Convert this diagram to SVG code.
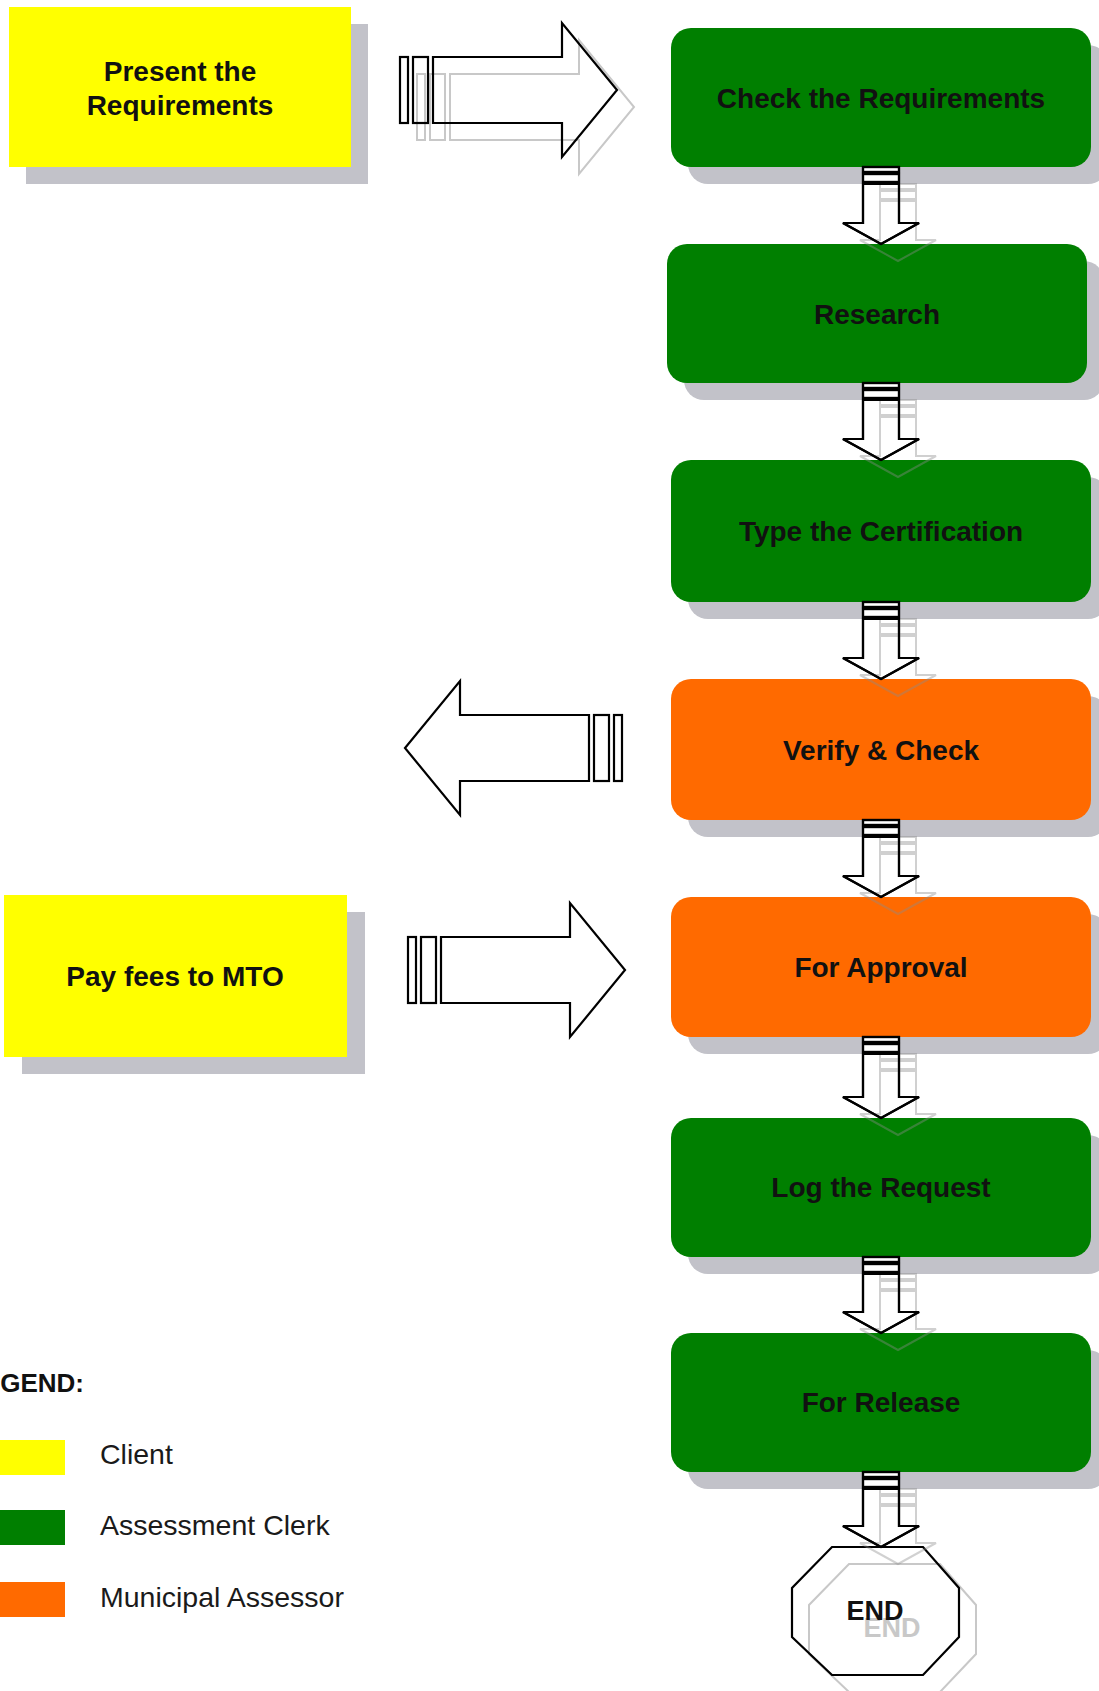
<svg xmlns="http://www.w3.org/2000/svg" xmlns:xlink="http://www.w3.org/1999/xlink" width="1099" height="1691" viewBox="0 0 1099 1691">
<style>
.shadow{fill:#c2c2c9}
.green{fill:#007f00}
.orange{fill:#ff6a00}
.yellow{fill:#ffff00}
.lbl{font-family:"Liberation Sans",Arial,sans-serif;font-weight:bold;font-size:28px;fill:#111;text-anchor:middle}
.leg{font-family:"Liberation Sans",Arial,sans-serif;font-size:28.5px;fill:#1a1a1a}
.arr{fill:#fff;stroke:#000;stroke-width:2.2}
.arrline{fill:none;stroke:#000;stroke-width:2.2}
.ghost{fill:none;stroke:#8c8c8c;stroke-width:2;opacity:0.4}
.ghostw{fill:none;stroke:#c8c8c8;stroke-width:2}
</style>
<defs>
<g id="harrow">
<rect x="0" y="-33" width="8" height="66"/>
<rect x="13" y="-33" width="15" height="66"/>
<polygon points="33,-33 162,-33 162,-67 217,0 162,67 162,33 33,33"/>
</g>
</defs>
<rect width="1099" height="1691" fill="#fff"/>

<g id="node-present">
<rect class="shadow" x="26" y="24" width="342" height="160"/>
<rect class="yellow" x="9" y="7" width="342" height="160"/>
<text class="lbl" x="180" y="81">Present the</text>
<text class="lbl" x="180" y="115">Requirements</text>
</g>

<g id="node-pay">
<rect class="shadow" x="22" y="912" width="343" height="162"/>
<rect class="yellow" x="4" y="895" width="343" height="162"/>
<text class="lbl" x="175" y="986">Pay fees to MTO</text>
</g>

<g id="node-check">
<rect class="shadow" x="688" y="45" width="420" height="139" rx="20"/>
<rect class="green" x="671" y="28" width="420" height="139" rx="20"/>
<text class="lbl" x="881" y="108">Check the Requirements</text>
</g>

<g id="node-research">
<rect class="shadow" x="684" y="261" width="420" height="139" rx="20"/>
<rect class="green" x="667" y="244" width="420" height="139" rx="20"/>
<text class="lbl" x="877" y="324">Research</text>
</g>

<g id="node-type">
<rect class="shadow" x="688" y="477" width="420" height="142" rx="20"/>
<rect class="green" x="671" y="460" width="420" height="142" rx="20"/>
<text class="lbl" x="881" y="541">Type the Certification</text>
</g>

<g id="node-verify">
<rect class="shadow" x="688" y="696" width="420" height="141" rx="20"/>
<rect class="orange" x="671" y="679" width="420" height="141" rx="20"/>
<text class="lbl" x="881" y="760">Verify &amp; Check</text>
</g>

<g id="node-approval">
<rect class="shadow" x="688" y="914" width="420" height="140" rx="20"/>
<rect class="orange" x="671" y="897" width="420" height="140" rx="20"/>
<text class="lbl" x="881" y="977">For Approval</text>
</g>

<g id="node-log">
<rect class="shadow" x="688" y="1135" width="420" height="139" rx="20"/>
<rect class="green" x="671" y="1118" width="420" height="139" rx="20"/>
<text class="lbl" x="881" y="1197">Log the Request</text>
</g>

<g id="node-release">
<rect class="shadow" x="688" y="1350" width="420" height="139" rx="20"/>
<rect class="green" x="671" y="1333" width="420" height="139" rx="20"/>
<text class="lbl" x="881" y="1412">For Release</text>
</g>

<g id="node-end">
<polygon class="ghostw" points="849,1564 940,1564 976,1605 976,1654 940,1692 849,1692 809,1654 809,1605"/>
<text x="892" y="1637" font-family="Liberation Sans, Arial, sans-serif" font-weight="bold" font-size="27" fill="#c8c8c8" text-anchor="middle">END</text>
<polygon fill="none" stroke="#000" stroke-width="2.2" points="832,1547 923,1547 959,1588 959,1637 923,1675 832,1675 792,1637 792,1588"/>
<text x="875" y="1620" font-family="Liberation Sans, Arial, sans-serif" font-weight="bold" font-size="27" fill="#111" text-anchor="middle">END</text>
</g>

<g id="connectors">
<use xlink:href="#harrow" href="#harrow" class="ghostw" transform="translate(417,107)"/>
<use xlink:href="#harrow" href="#harrow" class="arrline" transform="translate(400,90)"/>
<use xlink:href="#harrow" href="#harrow" class="arr" transform="translate(622,748) scale(-1,1)"/>
<use xlink:href="#harrow" href="#harrow" class="arr" transform="translate(408,970)"/>

<g class="arr">
<g id="d1"><rect x="863" y="167" width="36" height="5"/><rect x="863" y="174" width="36" height="8"/><polygon points="863,184 899,184 899,223 919,223 881,244 843,223 863,223"/></g>
<g id="d2"><rect x="863" y="383" width="36" height="5"/><rect x="863" y="390" width="36" height="8"/><polygon points="863,400 899,400 899,439 919,439 881,460 843,439 863,439"/></g>
<g id="d3"><rect x="863" y="602" width="36" height="5"/><rect x="863" y="609" width="36" height="8"/><polygon points="863,619 899,619 899,658 919,658 881,679 843,658 863,658"/></g>
<g id="d4"><rect x="863" y="820" width="36" height="5"/><rect x="863" y="827" width="36" height="8"/><polygon points="863,837 899,837 899,876 919,876 881,897 843,876 863,876"/></g>
<g id="d5"><rect x="863" y="1037" width="36" height="5"/><rect x="863" y="1044" width="36" height="8"/><polygon points="863,1054 899,1054 899,1097 919,1097 881,1118 843,1097 863,1097"/></g>
<g id="d6"><rect x="863" y="1257" width="36" height="5"/><rect x="863" y="1264" width="36" height="8"/><polygon points="863,1274 899,1274 899,1312 919,1312 881,1333 843,1312 863,1312"/></g>
<g id="d7"><rect x="863" y="1472" width="36" height="5"/><rect x="863" y="1479" width="36" height="8"/><polygon points="863,1489 899,1489 899,1526 919,1526 881,1547 843,1526 863,1526"/></g>
</g>
<g class="ghost" transform="translate(17,17)">
<use xlink:href="#d1" href="#d1"/><use xlink:href="#d2" href="#d2"/><use xlink:href="#d3" href="#d3"/><use xlink:href="#d4" href="#d4"/><use xlink:href="#d5" href="#d5"/><use xlink:href="#d6" href="#d6"/><use xlink:href="#d7" href="#d7"/>
</g>
<g class="arrline">
<use xlink:href="#d1" href="#d1"/><use xlink:href="#d2" href="#d2"/><use xlink:href="#d3" href="#d3"/><use xlink:href="#d4" href="#d4"/><use xlink:href="#d5" href="#d5"/><use xlink:href="#d6" href="#d6"/><use xlink:href="#d7" href="#d7"/>
</g>
</g>

<g id="legend">
<text x="-33" y="1392" font-family="Liberation Sans, Arial, sans-serif" font-weight="bold" font-size="26" fill="#111">LEGEND:</text>
<rect class="yellow" x="0" y="1440" width="65" height="35"/>
<rect class="green" x="0" y="1510" width="65" height="35"/>
<rect class="orange" x="0" y="1582" width="65" height="35"/>
<text class="leg" x="100" y="1464">Client</text>
<text class="leg" x="100" y="1535">Assessment Clerk</text>
<text class="leg" x="100" y="1607">Municipal Assessor</text>
</g>
</svg>
